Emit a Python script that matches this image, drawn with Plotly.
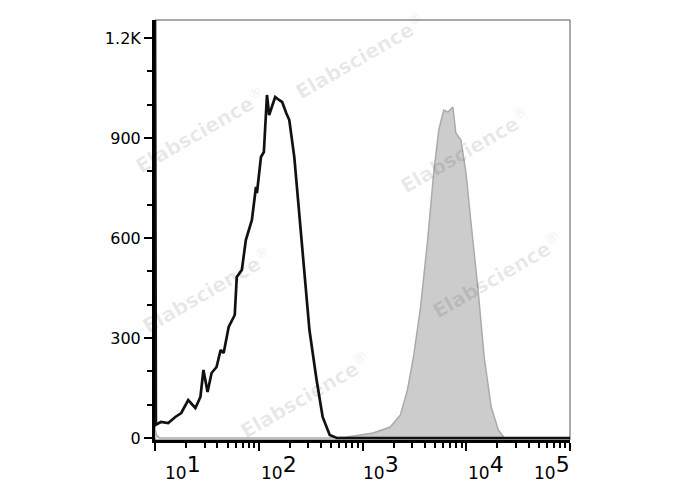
import plotly.graph_objects as go

# Unstained / control histogram (black outline)
ctrl_x = [10, 10.2, 11.4, 13.4, 15.7, 17.9, 20.9, 24.5, 27.4, 29.3, 32.1, 35.1, 39.2, 42.9, 45.9,
          51.3, 58.7, 61.4, 68.7, 75.1, 85.9, 94.0, 96.1, 105, 112, 120, 126, 144, 157, 168,
          184, 197, 220, 246, 276, 308, 361, 413, 483, 565, 1000, 10000, 100000]
ctrl_y = [1260, 40, 48, 45, 63, 75, 114, 90, 123, 204, 138, 195, 213, 264, 255,
          333, 369, 483, 504, 594, 654, 753, 735, 843, 858, 1029, 969, 1023, 1014, 1008,
          975, 954, 843, 675, 495, 324, 174, 63, 9, 0, 0, 0, 0]

# Stained sample histogram (grey filled)
stain_x = [10, 10.3, 11, 483, 706, 1265, 1852, 2318, 2710, 3100, 3628, 4244, 4856, 5433, 6073,
           6640, 7430, 7943, 8890, 9950, 11120, 13000, 14890, 17400, 20370, 23290, 100000]
stain_y = [30, 10, 0, 0, 3, 15, 33, 69, 144, 243, 393, 594, 795, 924, 984,
           978, 993, 915, 894, 795, 645, 444, 243, 93, 24, 0, 0]

y_ticks = [0, 300, 600, 900, 1200]
y_ticklabels = ["0", "300", "600", "900", "1.2K"]
x_decades = [10, 100, 1000, 10000, 100000]
x_exponents = ["1", "2", "3", "4", "5"]
x_minor = [m * d for d in [10, 100, 1000, 10000] for m in range(2, 10)]

fig = go.Figure()
fig.add_trace(go.Scatter(x=stain_x, y=stain_y, mode="lines", fill="tozeroy",
                         fillcolor="#cccccc", line=dict(color="#aaaaaa", width=1.5),
                         hoverinfo="skip", showlegend=False))
fig.add_trace(go.Scatter(x=ctrl_x, y=ctrl_y, mode="lines",
                         line=dict(color="#111111", width=2.7),
                         hoverinfo="skip", showlegend=False))

font = "DejaVu Sans"
fig.update_layout(
    width=688, height=490,
    margin=dict(l=147, r=126, t=12, b=58),
    paper_bgcolor="white", plot_bgcolor="white",
    font=dict(family=font, size=15, color="black"),
    xaxis=dict(type="log", range=[1, 5], showgrid=False, zeroline=False,
               showline=True, linecolor="black", linewidth=3,
               tickvals=x_decades, showticklabels=False,
               ticks="outside", ticklen=8, tickwidth=2, tickcolor="black",
               minor=dict(tickvals=x_minor, ticks="outside", ticklen=5, tickwidth=2,
                          tickcolor="black", showgrid=False)),
    yaxis=dict(range=[-6, 1254], showgrid=False, zeroline=False,
               showline=True, linecolor="black", linewidth=3,
               tickvals=y_ticks, ticktext=y_ticklabels,
               ticks="outside", ticklen=8, tickwidth=2, tickcolor="black",
               tickfont=dict(size=16, family=font),
               minor=dict(dtick=100, ticks="outside", ticklen=5, tickwidth=2,
                          tickcolor="black", showgrid=False)),
)

# thin frame on top/right
fig.add_shape(type="rect", xref="x domain", yref="y domain", x0=0, y0=0, x1=1, y1=1,
              line=dict(color="#555555", width=1), layer="below")

# x tick labels
shifts = [8, 0, -2, 0, 2]
for i, (v, e) in enumerate(zip(x_decades, x_exponents)):
    last = i == len(x_decades) - 1
    fig.add_annotation(x=1 + i, y=0, xref="x", yref="y domain",
                       text="10<sup><span style='font-size:22px'>" + e + "</span></sup>",
                       showarrow=False,
                       xanchor="right" if last else "left", yanchor="top",
                       xshift=shifts[i], yshift=-10,
                       font=dict(size=17, family=font, color="black"))

# watermarks (positions in screen pixels of the reference, mapped to the plot area)
wm = [(360, 56), (200, 130), (465, 150), (207, 290), (497, 275), (305, 395)]
for px, py in wm:
    fig.add_annotation(x=(px - 155) / 415, y=(440 - py) / 420, xref="paper", yref="paper",
                       xanchor="center", yanchor="middle",
                       text="<b>Elabscience</b><sup>®</sup>", showarrow=False, textangle=-30,
                       font=dict(size=20, family=font, color="rgba(0,0,0,0.09)"))

fig.write_html("out.html")
